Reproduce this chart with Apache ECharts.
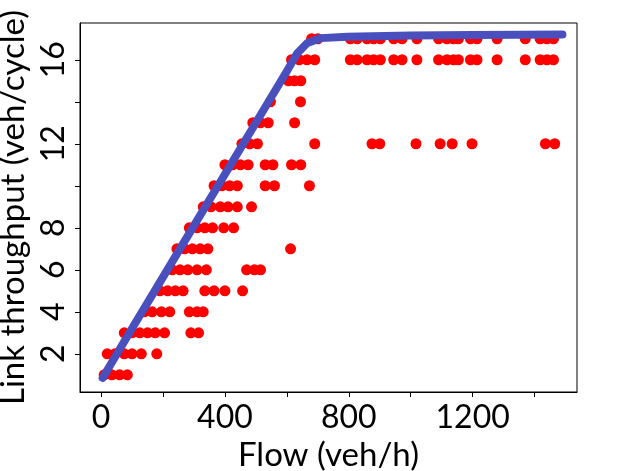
<!DOCTYPE html>
<html>
<head>
<meta charset="utf-8">
<script src="https://cdn.jsdelivr.net/npm/echarts@6/dist/echarts.min.js"></script>
<style>
  html, body { margin: 0; padding: 0; background: #fff; }
  #main { width: 639px; height: 471px; }
</style>
</head>
<body>
<div id="main"></div>
<script>
const rowLevels = [1, 2, 3, 4, 5, 6, 7, 8, 9, 10, 11, 12, 13, 14, 15, 16, 17];
const rowFlows = [
    [10, 35, 60, 85],
    [20, 45, 75, 100, 130, 180],
    [75, 100, 125, 150, 175, 205, 290, 315],
    [140, 165, 195, 222, 285, 310, 330],
    [190, 215, 240, 265, 335, 365, 400, 457],
    [230, 255, 280, 310, 340, 470, 495, 515],
    [245, 270, 295, 320, 345, 612],
    [285, 310, 335, 360, 396, 428],
    [330, 355, 385, 410, 440, 486],
    [365, 390, 415, 440, 530, 560, 673],
    [400, 425, 450, 475, 530, 555, 615, 645],
    [455, 480, 505, 690, 875, 900, 1017, 1095, 1134, 1198, 1435, 1465],
    [490, 515, 540, 625],
    [547, 644],
    [605, 625, 645],
    [615, 640, 665, 690, 805, 827, 859, 880, 902, 945, 972, 1020, 1090, 1117, 1138, 1154, 1193, 1214, 1279, 1370, 1418, 1440, 1461],
    [680, 700, 805, 827, 859, 880, 902, 945, 972, 1020, 1090, 1117, 1138, 1154, 1193, 1214, 1279, 1370, 1418, 1440, 1461]
];

// fitted curve
const fitFlow = [5, 100, 200, 300, 400, 500, 600, 633, 666, 709, 795, 1000, 1200, 1490];
const fitThroughput = [0.85, 3.2, 5.65, 8.1, 10.55, 13.0, 15.45, 16.3, 16.8, 17.03, 17.1, 17.15, 17.18, 17.2];

const xTicks = [0, 200, 400, 600, 800, 1000, 1200, 1400];
const xLabels = [0, 400, 800, 1200];
const yTicks = [2, 4, 6, 8, 10, 12, 14, 16];
const yLabels = [2, 4, 6, 8, 12, 16];

let chartDom = document.getElementById('main');
let myChart = echarts.init(chartDom);
let option;

const obsData = [];
rowLevels.forEach((lvl, i) => {
    rowFlows[i].forEach(f => obsData.push([f, lvl]));
});
const fitData = fitFlow.map((f, i) => [f, fitThroughput[i]]);

const font = 'Lato, "Open Sans", sans-serif';

option = {
    animation: false,
    grid: {
        left: 80,
        right: 62,
        top: 23,
        bottom: 79,
        outerBoundsMode: 'none',
        containLabel: false,
        show: true,
        borderColor: '#000',
        borderWidth: 1
    },
    xAxis: {
        type: 'value',
        min: -68,
        max: 1537,
        name: 'Flow (veh/h)',
        nameLocation: 'middle',
        nameGap: 42,
        nameTextStyle: { fontFamily: font, fontSize: 33, color: '#000' },
        axisLine: { onZero: false, lineStyle: { color: '#000', width: 1 } },
        axisTick: { show: true, length: 5, customValues: xTicks, lineStyle: { color: '#000' } },
        axisLabel: {
            customValues: xLabels,
            formatter: v => String(v),
            fontFamily: font,
            fontSize: 32,
            color: '#000',
            margin: 10
        },
        splitLine: { show: false }
    },
    yAxis: {
        type: 'value',
        min: 0.18,
        max: 17.75,
        name: 'Link throughput (veh/cycle)',
        nameLocation: 'middle',
        nameRotate: 90,
        nameGap: 40,
        nameTextStyle: { fontFamily: font, fontSize: 33, color: '#000' },
        axisLine: { show: true, onZero: false, lineStyle: { color: '#000', width: 1 } },
        axisTick: { show: true, length: 5, customValues: yTicks, lineStyle: { color: '#000' } },
        axisLabel: {
            customValues: yLabels,
            formatter: v => String(v),
            rotate: 90,
            align: 'center',
            verticalAlign: 'bottom',
            fontFamily: font,
            fontSize: 32,
            color: '#000',
            margin: 10
        },
        splitLine: { show: false }
    },
    series: [
        {
            type: 'scatter',
            data: obsData,
            symbolSize: 11,
            itemStyle: { color: '#ff0000', opacity: 1 },
            z: 2
        },
        {
            type: 'line',
            data: fitData,
            showSymbol: false,
            smooth: false,
            lineStyle: { color: '#4a4fbe', width: 8, cap: 'round', join: 'round' },
            z: 3
        }
    ]
};

option && myChart.setOption(option);
</script>
</body>
</html>
